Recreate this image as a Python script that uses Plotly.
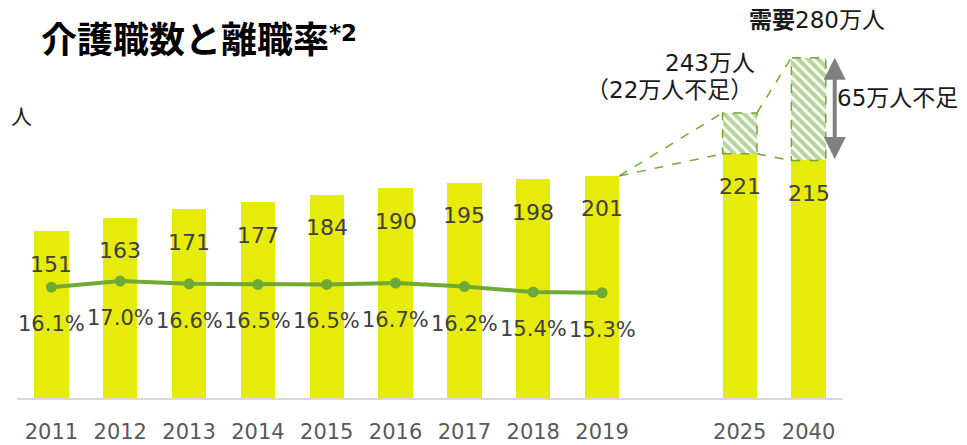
import plotly.graph_objects as go

# ---- data ----
years = ["2011", "2012", "2013", "2014", "2015", "2016", "2017", "2018", "2019", "2025", "2040"]
workers = [151, 163, 171, 177, 184, 190, 195, 198, 201, 221, 215]          # 万人
turnover = [16.1, 17.0, 16.6, 16.5, 16.5, 16.7, 16.2, 15.4, 15.3]          # %
future_idx = [9, 10]                                                        # 2025, 2040
shortfall_drawn = [37, 93]                                                  # hatched heights as drawn
demand_labels = ["243万人", "需要280万人"]
shortfall_labels = ["（22万人不足）", "65万人不足"]

# ---- geometry (page has an 8px body margin) ----
OFF = 8
W, H = 967 - OFF, 445 - OFF
PLOT_L, PLOT_R, PLOT_T, PLOT_B = 17, 843.5, 50, 398      # target page pixels of plot area
L = PLOT_L - OFF
T = PLOT_T - OFF
R = W - (PLOT_R - OFF)
B = H - (PLOT_B - OFF)
PW, PH = W - L - R, H - T - B
def px(x):
    return (x - PLOT_L) / PW
def py(y):
    return (PLOT_B - y) / PH

xpos = list(range(9)) + [10, 11]
bw = 0.5
YELLOW = "#E6EB0A"
GREEN = "#6FAA35"
FONT = "DejaVu Sans, Noto Sans CJK JP"

fig = go.Figure()

fig.add_trace(go.Bar(x=xpos, y=workers, width=bw, marker=dict(color=YELLOW, line=dict(width=0)),
                     hoverinfo="skip", showlegend=False))

fx = [xpos[i] for i in future_idx]
fbase = [workers[i] for i in future_idx]
fig.add_trace(go.Bar(x=fx, y=shortfall_drawn, base=fbase, width=bw,
                     marker=dict(color="white", line=dict(width=0),
                                 pattern=dict(shape="\\", fgcolor=GREEN, bgcolor="white",
                                              size=7, solidity=0.6, fillmode="overlay")),
                     hoverinfo="skip", showlegend=False))

fig.add_trace(go.Scatter(x=xpos[:9], y=turnover, yaxis="y2", mode="lines+markers",
                         line=dict(color=GREEN, width=4), marker=dict(size=11, color=GREEN),
                         hoverinfo="skip", showlegend=False))

ann = []
for x, v in zip(xpos, workers):
    ann.append(dict(x=x, y=v, xref="x", yref="y", yshift=-33, text=str(v), showarrow=False,
                    font=dict(size=22, color="#404040", family=FONT)))
for x, v in zip(xpos[:9], turnover):
    ann.append(dict(x=x, y=v, xref="x", yref="y2", yshift=-37, text=f"{v:.1f}%", showarrow=False,
                    font=dict(size=21, color="#404040", family=FONT)))

# outlines and connectors for the hatched (shortfall) bars
shapes = []
for x, b0, h in zip(fx, fbase, shortfall_drawn):
    shapes.append(dict(type="rect", xref="x", yref="y", x0=x - bw / 2, x1=x + bw / 2, y0=b0, y1=b0 + h,
                       line=dict(color=GREEN, width=1.5, dash="dash"), layer="above"))
i19, i25, i40 = 8, 9, 10
tops = [workers[i25] + shortfall_drawn[0], workers[i40] + shortfall_drawn[1]]
conn = [
    (xpos[i19] + bw / 2, workers[i19], xpos[i25] - bw / 2, tops[0]),
    (xpos[i19] + bw / 2, workers[i19], xpos[i25] - bw / 2, workers[i25]),
    (xpos[i25] + bw / 2, tops[0], xpos[i40] - bw / 2, tops[1]),
    (xpos[i25] + bw / 2, workers[i25], xpos[i40] - bw / 2, workers[i40]),
]
for x0, y0, x1, y1 in conn:
    shapes.append(dict(type="line", xref="x", yref="y", x0=x0, y0=y0, x1=x1, y1=y1,
                       line=dict(color=GREEN, width=1.5, dash="dash")))

# double arrow for 2040 shortfall
ax_x = xpos[i40] + 0.38
ann.append(dict(x=ax_x, y=tops[1], ax=ax_x, ay=workers[i40], xref="x", yref="y", axref="x", ayref="y",
                text="", showarrow=True, arrowhead=2, startarrowhead=2, arrowside="end+start",
                arrowsize=1.1, startarrowsize=1.1, arrowwidth=4, arrowcolor="#808080"))

# texts
ann += [
    dict(x=px(39), y=py(37), xref="paper", yref="paper", xanchor="left", yanchor="middle",
         text="<b>介護職数と離職率</b>", showarrow=False,
         font=dict(size=36, color="#000000", family="Noto Sans CJK JP")),
    dict(x=px(327), y=py(33), xref="paper", yref="paper", xanchor="left", yanchor="middle",
         text="<b>*2</b>", showarrow=False, font=dict(size=23, color="#000000", family="DejaVu Sans")),
    dict(x=px(9), y=py(117), xref="paper", yref="paper", xanchor="left", yanchor="middle",
         text="人", showarrow=False, font=dict(size=21, color="#1a1a1a", family=FONT)),
    dict(x=px(817), y=py(20), xref="paper", yref="paper", xanchor="center", yanchor="middle",
         text="<b>需要</b>280万人", showarrow=False, font=dict(size=23, color="#1a1a1a", family=FONT)),
    dict(x=px(710), y=py(63), xref="paper", yref="paper", xanchor="center", yanchor="middle",
         text=demand_labels[0], showarrow=False, font=dict(size=23, color="#1a1a1a", family=FONT)),
    dict(x=px(670), y=py(90), xref="paper", yref="paper", xanchor="center", yanchor="middle",
         text=shortfall_labels[0], showarrow=False, font=dict(size=23, color="#1a1a1a", family=FONT)),
    dict(x=px(835), y=py(98), xref="paper", yref="paper", xanchor="left", yanchor="middle",
         text=shortfall_labels[1], showarrow=False, font=dict(size=23, color="#1a1a1a", family=FONT)),
]

fig.update_layout(
    width=W, height=H, margin=dict(l=L, r=R, t=T, b=B, autoexpand=False),
    paper_bgcolor="white", plot_bgcolor="white",
    barmode="overlay", bargap=0, showlegend=False,
    xaxis=dict(range=[-0.5, 11.5], tickvals=xpos, ticktext=years, showgrid=False, zeroline=False,
               showline=True, linecolor="#D9D9D9", linewidth=1.5, ticks="", automargin=False,
               ticklabelstandoff=14,
               tickfont=dict(size=21, color="#595959", family=FONT)),
    yaxis=dict(range=[0, PH / 1.105], visible=False, showgrid=False, automargin=False),
    yaxis2=dict(range=[0, PH / 6.88], overlaying="y", visible=False, showgrid=False, automargin=False),
    annotations=ann, shapes=shapes,
)

fig.write_html("out.html")
